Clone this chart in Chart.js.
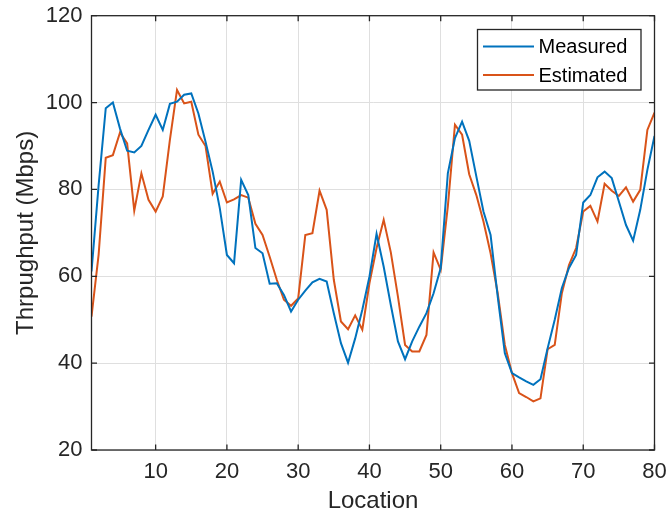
<!DOCTYPE html>
<html>
<head>
<meta charset="utf-8">
<script src="https://cdn.jsdelivr.net/npm/chart.js@4/dist/chart.umd.min.js"></script>
<style>
  html, body { margin: 0; padding: 0; background: #ffffff; }
  #wrap { width: 667px; height: 518px; }
</style>
</head>
<body>
<div id="wrap"><canvas id="c" width="667" height="518"></canvas></div>
<script>
// ---- data ----
const locations = Array.from({ length: 80 }, (_, i) => i + 1);
const measured = [61.1, 81.0, 98.7, 100.0, 94.0, 88.9, 88.5, 90.0, 93.7, 97.2,
  93.7, 99.7, 100.2, 101.8, 102.1, 97.5, 91.0, 84.1, 75.7, 64.9,
  63.0, 82.2, 78.7, 66.5, 65.3, 58.3, 58.4, 55.7, 51.9, 54.6,
  56.7, 58.6, 59.4, 58.8, 51.5, 44.6, 40.1, 45.7, 52.3, 59.9,
  69.8, 62.2, 53.4, 45.0, 40.9, 45.0, 48.4, 51.5, 56.1, 61.9,
  83.7, 91.8, 95.6, 91.2, 83.0, 74.9, 69.5, 55.3, 42.3, 37.7,
  36.7, 35.8, 35.0, 36.3, 43.4, 50.0, 57.3, 61.9, 64.9, 77.0,
  78.7, 82.8, 84.1, 82.6, 77.2, 71.8, 68.2, 75.3, 84.5, 92.3];
const estimated = [50.7, 65.0, 87.3, 87.9, 93.1, 90.6, 75.1, 83.7, 77.6, 74.9,
  78.4, 91.4, 102.9, 99.8, 100.2, 92.6, 90.0, 79.0, 81.8, 77.0,
  77.7, 78.7, 78.1, 72.1, 69.5, 64.5, 59.2, 54.6, 53.2, 54.9,
  69.5, 69.9, 79.7, 75.3, 59.2, 49.6, 47.8, 51.0, 47.7, 58.4,
  66.5, 73.0, 65.5, 55.3, 44.2, 42.7, 42.7, 46.5, 65.5, 61.5,
  76.1, 94.9, 92.6, 83.5, 78.7, 72.6, 65.3, 56.1, 44.2, 37.7,
  33.1, 32.2, 31.2, 31.9, 43.2, 44.2, 56.1, 62.6, 66.5, 74.9,
  76.2, 72.6, 81.3, 79.7, 78.5, 80.5, 77.2, 79.9, 93.7, 97.7];
const seriesNames = ['Measured', 'Estimated'];
const xTicks = [10, 20, 30, 40, 50, 60, 70, 80];
const yTicks = [20, 40, 60, 80, 100, 120];
const xTitle = 'Location';
const yTitle = 'Thrpughput (Mbps)';

// ---- style ----
const FONT = "'Liberation Sans', Arial, Helvetica, sans-serif";
const INK = '#262626';
const GRID = '#dfdfdf';
const COLORS = ['#0072BD', '#D95319'];

const toPts = arr => arr.map((v, i) => ({ x: locations[i], y: v }));

const boxPlugin = {
  id: 'matlabBox',
  afterDatasetsDraw(chart) {
    const { ctx, chartArea: a, scales } = chart;
    ctx.save();
    ctx.strokeStyle = INK;
    ctx.lineWidth = 1.3;
    ctx.strokeRect(a.left, a.top, a.right - a.left, a.bottom - a.top);
    const tl = 5.5;
    ctx.beginPath();
    xTicks.forEach(t => {
      const px = scales.x.getPixelForValue(t);
      ctx.moveTo(px, a.bottom); ctx.lineTo(px, a.bottom - tl);
      ctx.moveTo(px, a.top); ctx.lineTo(px, a.top + tl);
    });
    yTicks.forEach(t => {
      const py = scales.y.getPixelForValue(t);
      ctx.moveTo(a.left, py); ctx.lineTo(a.left + tl, py);
      ctx.moveTo(a.right, py); ctx.lineTo(a.right - tl, py);
    });
    ctx.stroke();
    ctx.restore();
  }
};

const legendPlugin = {
  id: 'matlabLegend',
  afterDraw(chart) {
    const { ctx } = chart;
    const L = 477.5, T = 29.5, R = 641, B = 90;
    ctx.save();
    ctx.fillStyle = '#ffffff';
    ctx.fillRect(L, T, R - L, B - T);
    ctx.strokeStyle = INK;
    ctx.lineWidth = 1.3;
    ctx.strokeRect(L, T, R - L, B - T);
    const rows = [46.5, 75];
    chart.data.datasets.forEach((ds, i) => {
      const y = rows[i];
      ctx.strokeStyle = ds.borderColor;
      ctx.lineWidth = 2;
      ctx.beginPath();
      ctx.moveTo(483, y); ctx.lineTo(534, y);
      ctx.stroke();
      ctx.fillStyle = '#000000';
      ctx.font = '20px ' + FONT;
      ctx.textBaseline = 'middle';
      ctx.textAlign = 'left';
      ctx.fillText(ds.label, 538.5, y + 1);
    });
    ctx.restore();
  }
};

new Chart(document.getElementById('c'), {
  type: 'line',
  data: {
    datasets: [
      { label: seriesNames[0], data: toPts(measured), borderColor: COLORS[0], backgroundColor: COLORS[0] },
      { label: seriesNames[1], data: toPts(estimated), borderColor: COLORS[1], backgroundColor: COLORS[1] }
    ]
  },
  options: {
    responsive: false,
    animation: false,
    devicePixelRatio: 1,
    layout: { padding: { top: 15.7, right: 12.5, bottom: 0, left: 0 } },
    elements: {
      point: { radius: 0, hoverRadius: 0 },
      line: { borderWidth: 2, tension: 0, fill: false }
    },
    plugins: { legend: { display: false }, tooltip: { enabled: false } },
    scales: {
      x: {
        type: 'linear',
        min: 1, max: 80,
        afterBuildTicks: s => { s.ticks = xTicks.map(v => ({ value: v })); },
        afterFit: s => { s.height = 68; s.paddingLeft = 0; s.paddingRight = 0; },
        grid: { color: GRID, lineWidth: 1, drawTicks: false },
        border: { display: false },
        ticks: { color: INK, font: { family: FONT, size: 22 }, padding: 9, maxRotation: 0 },
        title: { display: true, text: xTitle, color: INK, font: { family: FONT, size: 24 }, padding: { top: 0, bottom: 2 } }
      },
      y: {
        type: 'linear',
        min: 20, max: 120,
        afterBuildTicks: s => { s.ticks = yTicks.map(v => ({ value: v })); },
        afterFit: s => { s.width = 91.5; s.paddingTop = 0; s.paddingBottom = 0; },
        grid: { color: GRID, lineWidth: 1, drawTicks: false },
        border: { display: false },
        ticks: { color: INK, font: { family: FONT, size: 22 }, padding: 9 },
        title: { display: true, text: yTitle, color: INK, font: { family: FONT, size: 24 }, padding: { top: 12, bottom: 0 } }
      }
    }
  },
  plugins: [boxPlugin, legendPlugin]
});
</script>
</body>
</html>
